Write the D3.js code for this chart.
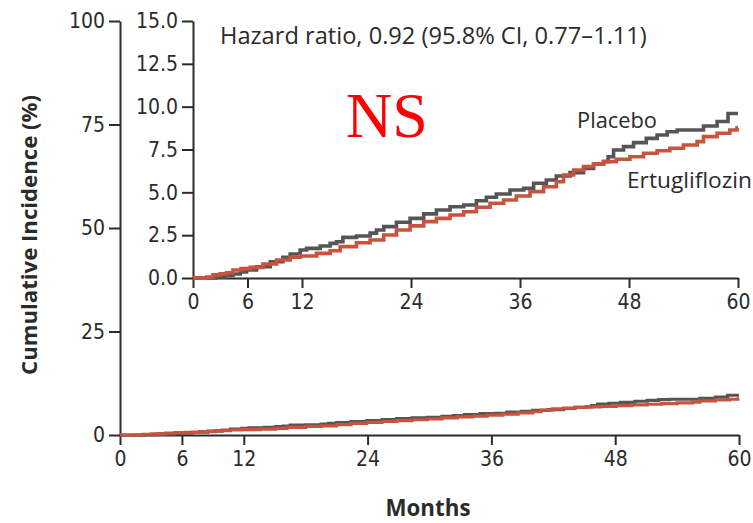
<!DOCTYPE html>
<html>
<head>
<meta charset="utf-8">
<script src="https://cdn.jsdelivr.net/npm/d3@7/dist/d3.min.js"></script>
<style>
  html, body { margin: 0; padding: 0; background: #fff; }
  svg { display: block; }
</style>
</head>
<body>
<svg id="chart" width="753" height="523"></svg>
<script>
// Kaplan-Meier cumulative incidence, ertugliflozin vs placebo (months, %)
const placeboMonths = [0, 2.5, 3.5, 4.4, 5.2, 5.9, 7.0, 8.5, 9.9, 10.7, 11.8, 12.5, 14.0, 15.1, 15.8, 16.5, 18.0, 19.5, 20.2, 21.0, 22.4, 23.9, 25.4, 26.8, 28.3, 29.8, 31.2, 32.3, 33.4, 34.9, 36.4, 37.5, 38.9, 40.0, 41.5, 43.0, 44.1, 45.2, 45.7, 46.3, 47.4, 48.5, 49.9, 51.1, 52.2, 53.3, 56.2, 57.7, 58.9, 60];
const placeboValues = [0, 0.06, 0.15, 0.23, 0.35, 0.47, 0.66, 0.95, 1.21, 1.40, 1.63, 1.73, 1.87, 2.02, 2.12, 2.37, 2.45, 2.62, 2.80, 3.00, 3.25, 3.48, 3.74, 3.97, 4.16, 4.26, 4.51, 4.71, 4.90, 5.14, 5.23, 5.53, 5.72, 5.95, 6.15, 6.40, 6.65, 6.79, 7.08, 7.47, 7.67, 7.90, 8.15, 8.35, 8.54, 8.64, 8.87, 9.13, 9.60, 9.60];

const ertuMonths = [0, 1.5, 2.2, 3.0, 3.7, 4.4, 5.3, 6.3, 7.7, 9.2, 10.7, 11.8, 13.6, 15.1, 16.2, 18.0, 19.5, 21.0, 22.4, 23.9, 25.4, 26.8, 28.3, 29.8, 31.2, 32.7, 34.2, 35.6, 37.1, 38.6, 40.0, 40.8, 41.9, 43.0, 44.1, 45.2, 46.6, 48.1, 49.6, 51.1, 52.5, 54.0, 55.5, 56.2, 57.7, 59.1, 59.9, 60];
const ertuValues = [0, 0.06, 0.18, 0.25, 0.31, 0.47, 0.55, 0.62, 0.82, 1.05, 1.21, 1.28, 1.44, 1.59, 1.83, 2.06, 2.22, 2.51, 2.80, 3.04, 3.29, 3.48, 3.68, 3.87, 4.13, 4.36, 4.55, 4.79, 5.04, 5.33, 5.62, 6.01, 6.30, 6.50, 6.65, 6.79, 6.93, 7.08, 7.28, 7.43, 7.57, 7.76, 7.96, 8.25, 8.45, 8.64, 8.76, 8.76];

const seriesNames = ["Placebo", "Ertugliflozin"];
const seriesColors = ["#555555", "#c9533d"];

const monthTicks = [0, 6, 12, 24, 36, 48, 60];
const outerYTicks = [0, 25, 50, 75, 100];
const insetYTicks = [0, 2.5, 5, 7.5, 10, 12.5, 15];

const hazardLabel = "Hazard ratio, 0.92 (95.8% CI, 0.77\u20131.11)";
const yTitle = "Cumulative Incidence (%)";
const xTitle = "Months";
const sigLabel = "NS";

const series = [
  placeboMonths.map((m, i) => [m, placeboValues[i]]),
  ertuMonths.map((m, i) => [m, ertuValues[i]])
];

const svg = d3.select("#chart");
const ink = "#2b2b2b";
const tickFont = "'Liberation Sans Narrow', 'DejaVu Sans Condensed', 'Arial Narrow', sans-serif";
const textFont = "'Open Sans', 'Noto Sans', 'DejaVu Sans', sans-serif";

// fit a text element to a target width by adjusting font size
function fitWidth(sel, target) {
  const node = sel.node();
  const fs = parseFloat(sel.attr("font-size"));
  const w = node.getComputedTextLength();
  if (w > 0) sel.attr("font-size", (fs * target / w).toFixed(2));
}

function styleAxis(g) {
  g.selectAll(".domain").attr("stroke", ink).attr("stroke-width", 2);
  g.selectAll(".tick line").attr("stroke", ink).attr("stroke-width", 2);
  g.selectAll(".tick text").attr("fill", ink).attr("font-family", tickFont).attr("font-size", 21);
}

// ---------- outer panel ----------
const ox = d3.scaleLinear().domain([0, 60]).range([120, 739]);
const oy = d3.scaleLinear().domain([0, 100]).range([435, 21]);

svg.append("g")
  .attr("transform", `translate(0,${oy(0)})`)
  .call(d3.axisBottom(ox).tickValues(monthTicks).tickSize(10).tickSizeOuter(0).tickPadding(6))
  .call(styleAxis);

svg.append("g")
  .attr("transform", `translate(${ox(0)},0)`)
  .call(d3.axisLeft(oy).tickValues(outerYTicks).tickSize(11).tickSizeOuter(0).tickPadding(4))
  .call(styleAxis);

const outerLine = d3.line().x(d => ox(d[0])).y(d => oy(d[1])).curve(d3.curveStepAfter);
series.forEach((s, i) => {
  svg.append("path").datum(s)
    .attr("fill", "none").attr("stroke", seriesColors[i]).attr("stroke-width", 3.2)
    .attr("d", outerLine);
});

// ---------- inset panel ----------
const ix = d3.scaleLinear().domain([0, 60]).range([193, 738]);
const iy = d3.scaleLinear().domain([0, 15]).range([278, 21]);

svg.append("rect")
  .attr("x", ix(0) - 2).attr("y", iy(15) - 10)
  .attr("width", ix(60) - ix(0) + 14).attr("height", iy(0) - iy(15) + 45)
  .attr("fill", "#fff");

svg.append("g")
  .attr("transform", `translate(0,${iy(0)})`)
  .call(d3.axisBottom(ix).tickValues(monthTicks).tickSize(10).tickSizeOuter(0).tickPadding(6))
  .call(styleAxis);

svg.append("g")
  .attr("transform", `translate(${ix(0)},0)`)
  .call(d3.axisLeft(iy).tickValues(insetYTicks).tickFormat(d3.format(".1f")).tickSize(11).tickSizeOuter(0).tickPadding(4))
  .call(styleAxis);

const insetLine = d3.line().x(d => ix(d[0])).y(d => iy(d[1])).curve(d3.curveStepAfter);
series.forEach((s, i) => {
  svg.append("path").datum(s)
    .attr("fill", "none").attr("stroke", seriesColors[i]).attr("stroke-width", 3.6)
    .attr("d", insetLine);
});

// ---------- labels ----------
const hz = svg.append("text").attr("x", 220).attr("y", 44)
  .attr("font-family", textFont).attr("font-size", 20).attr("fill", ink)
  .text(hazardLabel);
fitWidth(hz, 427);

const pl = svg.append("text").attr("x", 577).attr("y", 128)
  .attr("font-family", textFont).attr("font-size", 20).attr("fill", ink)
  .text(seriesNames[0]);
fitWidth(pl, 80);

const er = svg.append("text").attr("x", 627).attr("y", 188)
  .attr("font-family", textFont).attr("font-size", 20).attr("fill", ink)
  .text(seriesNames[1]);
fitWidth(er, 125);

svg.append("text").attr("x", 387).attr("y", 137)
  .attr("text-anchor", "middle")
  .attr("font-family", "'Liberation Serif', 'DejaVu Serif', serif")
  .attr("font-size", 64).attr("fill", "#ff0000")
  .text(sigLabel);

const yt = svg.append("text")
  .attr("transform", `translate(37,${(95 + 375) / 2}) rotate(-90)`)
  .attr("text-anchor", "middle")
  .attr("font-family", textFont).attr("font-weight", "bold")
  .attr("font-size", 19).attr("fill", ink)
  .text(yTitle);
fitWidth(yt, 280);

const xt = svg.append("text").attr("x", 428).attr("y", 516)
  .attr("text-anchor", "middle")
  .attr("font-family", textFont).attr("font-weight", "bold")
  .attr("font-size", 20).attr("fill", ink)
  .text(xTitle);
fitWidth(xt, 85);
</script>
</body>
</html>
